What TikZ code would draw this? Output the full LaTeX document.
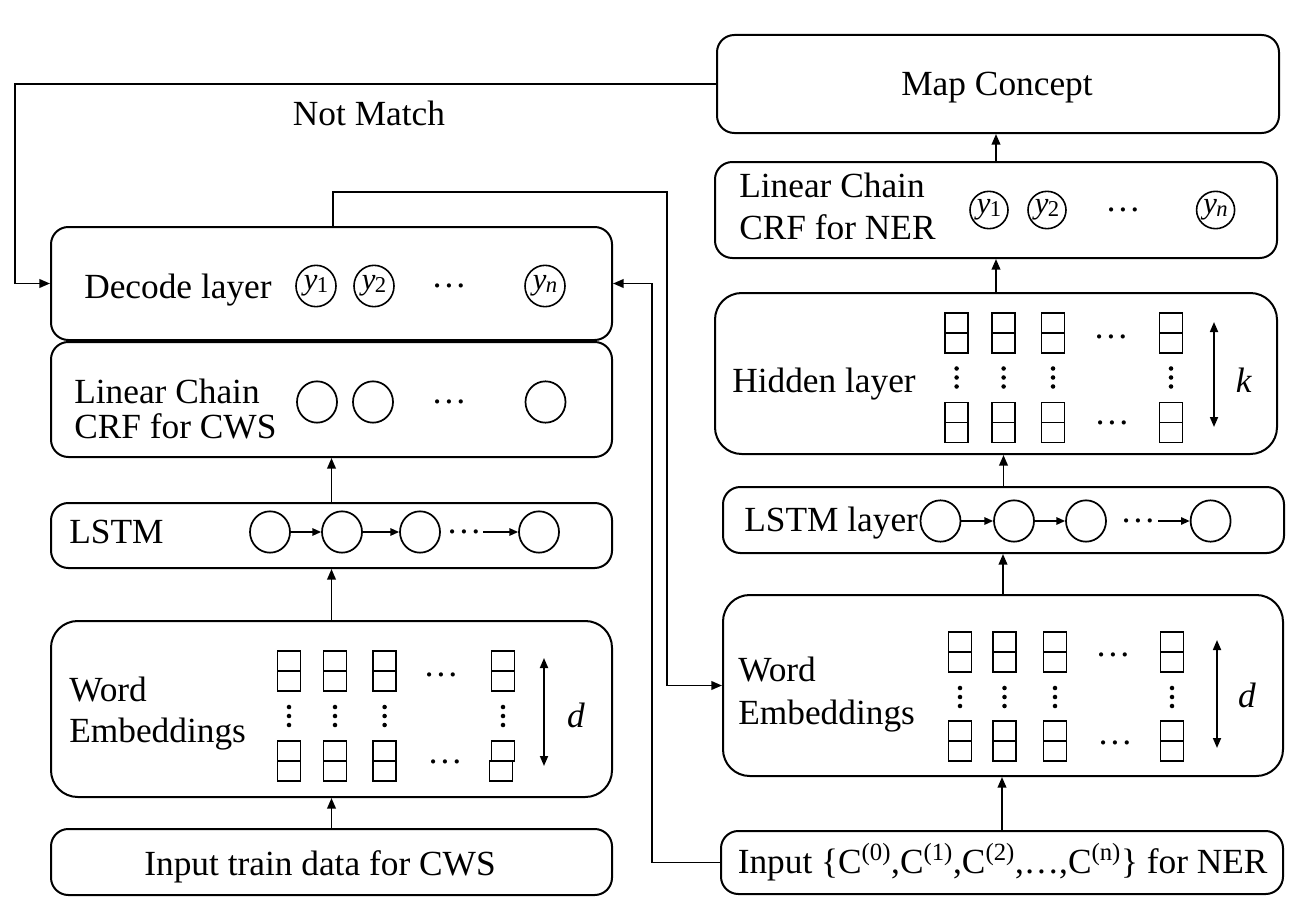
\documentclass[tikz,border=0pt]{standalone}
\usepackage{fontspec}
\setmainfont{Liberation Serif}
\usetikzlibrary{arrows.meta,shapes.geometric,fit}
\begin{document}
\begin{tikzpicture}[x=0.75pt,y=-0.75pt,
  box/.style={draw,line width=1.5pt,rounded corners=13pt,inner sep=0pt},
  bigbox/.style={box,rounded corners=20pt},
  lbl/.style={font=\fontsize{26.5}{30}\selectfont,inner sep=0pt},
  dotsn/.style={font=\fontsize{26.5}{30}\selectfont,inner sep=0pt},
  conn/.style={line width=1.3pt,-{Triangle[length=8pt,width=6.5pt]}},
  small/.style={line width=1.3pt,-{Triangle[length=6.5pt,width=5.5pt]}},
  dbl/.style={line width=1.3pt,{Triangle[length=7.5pt,width=6pt]}-{Triangle[length=7.5pt,width=6pt]}},
  yc/.style={draw,ellipse,line width=1.2pt,minimum width=30pt,minimum height=31pt,inner sep=0pt,font=\fontsize{23}{23}\selectfont},
  oc/.style={draw,ellipse,line width=1.3pt,minimum width=30pt,minimum height=31pt,inner sep=0pt},
  cell/.pic={\draw[line width=1.4pt] (-11.5,0) rectangle (11.5,40); \draw[line width=1.4pt] (-11.5,20) -- (11.5,20);},
  vd/.pic={\fill (0,-9) circle (1.7pt); \fill (0,0) circle (1.7pt); \fill (0,9) circle (1.7pt);}
]
\useasboundingbox (0,0) rectangle (1300,924);
\newcommand\ysb[1]{\textit{y}\kern-0.5pt{\fontsize{17}{17}\selectfont\raisebox{-0.28ex}{#1}}}

% ---------- boxes ----------
\node[box,fit={(717,35)(1279,133)}] (mc) {};
\node[box,fit={(715,162)(1277,258)}] (crfR) {};
\node[bigbox,fit={(715,293)(1277,454)}] (hidR) {};
\node[box,fit={(723,487)(1284,553)}] (lstmR) {};
\node[bigbox,fit={(723,595)(1283,776)}] (weR) {};
\node[box,fit={(721,831)(1283,894)}] (inR) {};

\node[box,fit={(51,227)(612,340)}] (dec) {};
\node[box,fit={(51,342)(612,457)}] (crfL) {};
\node[box,fit={(51,503)(612,568)}] (lstmL) {};
\node[bigbox,fit={(51,621)(612,797)}] (weL) {};
\node[box,fit={(51,829)(612,895)}] (inL) {};

% ---------- texts ----------
\node[lbl,anchor=base] (mct) at (997,95) {Map Concept};
\node[lbl,anchor=base] (nm) at (369,125) {Not Match};

\node[lbl,anchor=base west] (dect) at (84,298) {Decode layer};
\node[yc] (dy1) at (316,286) {\ysb{1}};
\node[yc] (dy2) at (374,286) {\ysb{2}};
\node[dotsn] (ddots) at (449,286) {…};
\node[yc] (dyn) at (545,286) {\ysb{\textit{n}}};

\node[lbl,anchor=base west] (crfLt1) at (74,403) {Linear Chain};
\node[lbl,anchor=base west] (crfLt2) at (74,438) {CRF for CWS};
\node[oc] (cc1) at (317,402) {};
\node[oc] (cc2) at (373,402) {};
\node[dotsn] (cdots) at (449,402) {…};
\node[oc] (ccn) at (545.5,402) {};

\node[lbl,anchor=base west] (lstmLt) at (69,543) {LSTM};
\node[oc] (l1) at (270,532) {};
\node[oc] (l2) at (342,532) {};
\node[oc] (l3) at (420,532) {};
\node[dotsn] (ldots) at (464,532) {…};
\coordinate (lstart) at (483,532);
\node[oc] (ln) at (539,532) {};
\draw[small] (l1) -- (l2);
\draw[small] (l2) -- (l3);
\draw[small] (lstart) -- (ln);

\node[lbl,anchor=base west] (weLt1) at (69,701) {Word};
\node[lbl,anchor=base west] (weLt2) at (69,742) {Embeddings};
\foreach \x in {289,335,384.6} {
  \pic at (\x,650.7) {cell};
  \pic at (\x,716) {vd};
  \pic at (\x,741) {cell};
}
\pic at (503,650.7) {cell};
\pic at (503,716) {vd};
\draw[line width=1.4pt] (491.5,741) rectangle (514.5,761);
\draw[line width=1.4pt] (489.5,761) rectangle (512.5,781);
\node[dotsn] (wld1) at (441,675) {…};
\node[dotsn] (wld2) at (445,762) {…};
\draw[dbl] (544,658) -- (544,766);
\node[lbl] (dL) at (576,715) {\textit{d}};

\node[lbl,anchor=base] (inLt) at (320,875) {Input train data for CWS};

% right column
\node[lbl,anchor=base west] (crfRt1) at (739,197) {Linear Chain};
\node[lbl,anchor=base west] (crfRt2) at (739,239) {CRF for NER};
\node[yc,minimum width=28.5pt,minimum height=28pt] (ry1) at (989,210) {\ysb{1}};
\node[yc,minimum width=28.5pt,minimum height=28pt] (ry2) at (1047,210) {\ysb{2}};
\node[dotsn] (rdots) at (1123,210) {…};
\node[yc,minimum width=28.5pt,minimum height=28pt] (ryn) at (1215.6,210) {\ysb{\textit{n}}};

\node[lbl,anchor=base west] (hidt) at (732,392) {Hidden layer};
\foreach \x in {956.6,1003.6,1053,1171} {
  \pic at (\x,312.7) {cell};
  \pic at (\x,377.5) {vd};
  \pic at (\x,402.5) {cell};
}
\node[dotsn] (hd1) at (1111,337) {…};
\node[dotsn] (hd2) at (1112,423) {…};
\draw[dbl] (1214,322) -- (1214,427);
\node[lbl] (kR) at (1244,380) {\textit{k}};

\node[lbl,anchor=base west] (lstmRt) at (744,531) {LSTM layer};
\node[oc] (r1) at (940.5,521) {};
\node[oc] (r2) at (1014,521) {};
\node[oc] (r3) at (1086,521) {};
\node[dotsn] (rld) at (1138,521) {…};
\coordinate (rstart) at (1158,521);
\node[oc] (rn) at (1210.6,521) {};
\draw[small] (r1) -- (r2);
\draw[small] (r2) -- (r3);
\draw[small] (rstart) -- (rn);

\node[lbl,anchor=base west] (weRt1) at (738,681) {Word};
\node[lbl,anchor=base west] (weRt2) at (738,724) {Embeddings};
\foreach \x in {960,1004.5,1055,1172} {
  \pic at (\x,632) {cell};
  \pic at (\x,697) {vd};
  \pic at (\x,721) {cell};
}
\node[dotsn] (wrd1) at (1113,655) {…};
\node[dotsn] (wrd2) at (1115,743) {…};
\draw[dbl] (1217,640) -- (1217,748);
\node[lbl] (dR) at (1247,695) {\textit{d}};

\node[lbl,anchor=base west] (inRt) at (737.5,873) {Input \{C\textsuperscript{(0)},C\textsuperscript{(1)},C\textsuperscript{(2)},…,C\textsuperscript{(n)}\}\ for NER};

% ---------- connectors ----------
\coordinate (nmx) at (15,0);
\draw[conn] (mc.west) -| (nmx |- dec.west) -- (dec.west);

\coordinate (t1) at (333,192);
\coordinate (t2) at (667,192);
\draw[conn] (t1 |- dec.north) -- (t1) -- (t2) |- (weR.west);

\coordinate (t3) at (652,0);
\draw[conn] (inR.west) -| (t3 |- dec.east) -- (dec.east);

\draw[conn] (inL.north) -- (weL.south);
\draw[conn] (weL.north) -- (lstmL.south);
\draw[conn] (lstmL.north) -- (crfL.south);

\draw[conn] (inR.north) -- (inR.north |- weR.south);
\draw[conn] (weR.north) -- (weR.north |- lstmR.south);
\draw[conn] (lstmR.north) -- (lstmR.north |- hidR.south);
\draw[conn] (hidR.north) -- (hidR.north |- crfR.south);
\draw[conn] (crfR.north) -- (crfR.north |- mc.south);
\end{tikzpicture}
\end{document}
